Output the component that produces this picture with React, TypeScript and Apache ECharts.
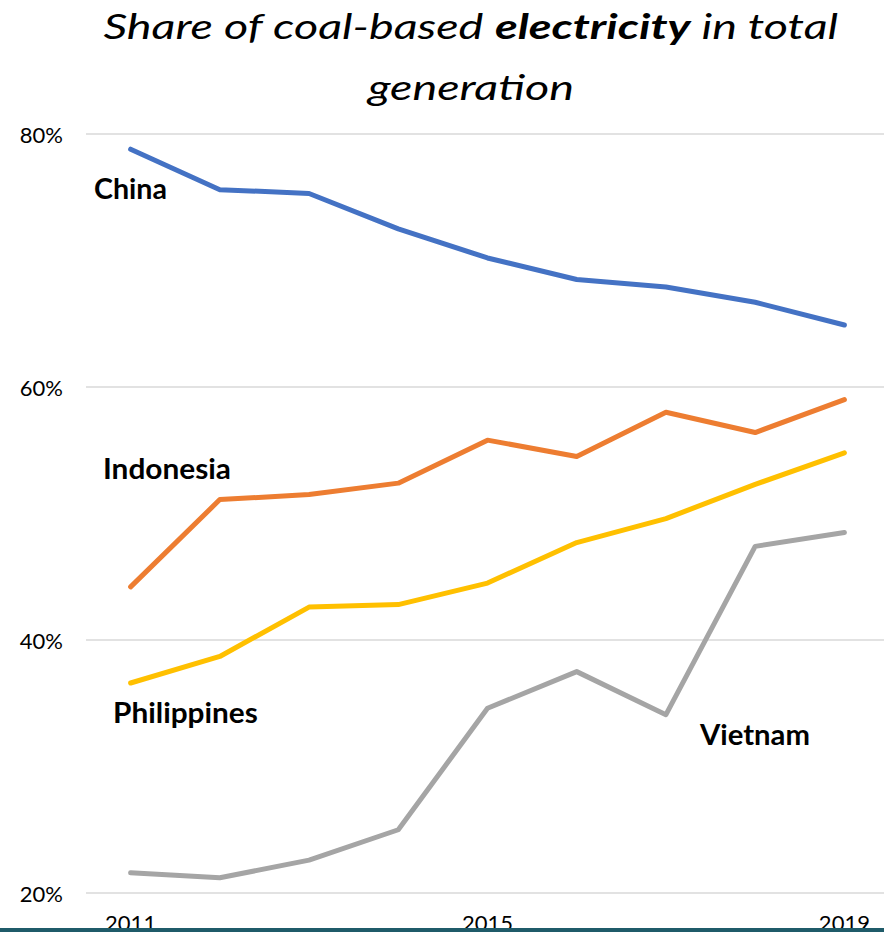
import React, { useEffect, useRef } from "react";
import * as echarts from "echarts";

const years = ["2011", "2012", "2013", "2014", "2015", "2016", "2017", "2018", "2019"];
const china = [78.8, 75.6, 75.3, 72.5, 70.2, 68.5, 67.9, 66.7, 64.9];
const indonesia = [44.2, 51.1, 51.5, 52.4, 55.8, 54.5, 58.0, 56.4, 59.0];
const philippines = [36.6, 38.7, 42.6, 42.8, 44.5, 47.7, 49.6, 52.3, 54.8];
const vietnam = [21.6, 21.2, 22.6, 25.0, 34.6, 37.5, 34.1, 47.4, 48.5];
const yTicks = [20, 40, 60, 80];

const FONT = "Lato";

function measure(text: string, font: string): number {
  try {
    const c = document.createElement("canvas").getContext("2d");
    if (!c) return 0;
    c.font = font;
    return c.measureText(text).width;
  } catch (e) {
    return 0;
  }
}

export default function App() {
  const ref = useRef<HTMLDivElement>(null);

  useEffect(() => {
    if (!ref.current) return;
    document.body.style.margin = "0";
    document.body.style.overflow = "hidden";
    const chart = echarts.init(ref.current, undefined, { renderer: "svg" });

    const tSize = 34;
    const fReg = `italic normal ${tSize}px ${FONT}`;
    const fBold = `italic bold ${tSize}px ${FONT}`;
    const s1 = "Share of coal-based";
    const s2 = "electricity";
    const s3 = "in total";
    const w1 = measure(s1 + " ", fReg);
    const w2 = measure(s2, fBold);
    const wsp = measure(" ", fReg);
    const w3 = measure(s3, fReg);
    const W = w1 + w2 + wsp + w3;
    const titleScale = W > 0 ? 735 / W : 1;
    const tStyle = (text: string, bold: boolean) => ({
      text,
      fontStyle: "italic",
      fontWeight: bold ? "bold" : "normal",
      fontSize: tSize,
      fontFamily: FONT,
      fill: "#000",
      align: "left",
      verticalAlign: "middle",
    });

    const lblSize = 28;
    const lblFont = `normal bold ${lblSize}px ${FONT}`;
    const seriesLabel = (text: string, x: number, y: number, targetW: number) => {
      const m = measure(text, lblFont);
      const sc = m > 0 ? targetW / m : 1;
      return {
        type: "text",
        x,
        y,
        scaleX: sc,
        style: {
          text,
          fontWeight: "bold",
          fontSize: lblSize,
          fontFamily: FONT,
          fill: "#000",
          align: "left",
          verticalAlign: "middle",
        },
        z: 10,
      };
    };

    const lineSeries = (name: string, data: number[], color: string) => ({
      name,
      type: "line",
      data,
      symbol: "none",
      lineStyle: { color, width: 5, cap: "round", join: "round" },
      itemStyle: { color },
    });

    chart.setOption({
      animation: false,
      backgroundColor: "#fff",
      grid: {
        left: 86,
        right: -5,
        top: 134,
        bottom: 39,
        containLabel: false,
        outerBoundsMode: "none",
      },
      xAxis: {
        type: "category",
        data: years,
        boundaryGap: true,
        axisLine: { show: false },
        axisTick: { show: false },
        axisLabel: {
          interval: 3,
          margin: 18,
          color: "#000",
          fontFamily: FONT,
          fontSize: 22,
        },
        splitLine: { show: false },
      },
      yAxis: {
        type: "value",
        min: yTicks[0],
        max: yTicks[yTicks.length - 1],
        interval: 20,
        axisLine: { show: false },
        axisTick: { show: false },
        axisLabel: {
          formatter: "{value}%",
          margin: 23,
          color: "#000",
          fontFamily: FONT,
          fontSize: 22,
        },
        splitLine: { show: true, lineStyle: { color: "#d9d9d9", width: 1.5 } },
      },
      series: [
        lineSeries("China", china, "#4472C4"),
        lineSeries("Indonesia", indonesia, "#ED7D31"),
        lineSeries("Philippines", philippines, "#FFC000"),
        lineSeries("Vietnam", vietnam, "#A5A5A5"),
      ],
      graphic: [
        {
          type: "group",
          x: 471,
          y: 26,
          scaleX: titleScale,
          children: [
            { type: "text", x: -W / 2, y: 0, style: tStyle(s1, false) },
            { type: "text", x: -W / 2 + w1, y: 0, style: tStyle(s2, true) },
            { type: "text", x: -W / 2 + w1 + w2 + wsp, y: 0, style: tStyle(s3, false) },
          ],
        },
        {
          type: "text",
          x: 471,
          y: 87,
          scaleX: titleScale,
          style: { ...tStyle("generation", false), align: "center" },
        },
        seriesLabel("China", 94, 188, 73),
        seriesLabel("Indonesia", 103, 468, 128),
        seriesLabel("Philippines", 113, 712, 145),
        seriesLabel("Vietnam", 700, 734, 110),
        {
          type: "rect",
          x: 0,
          y: 928,
          z: 100,
          shape: { width: 884, height: 4 },
          style: { fill: "#1f5b69" },
        },
      ],
    });

    return () => chart.dispose();
  }, []);

  return (
    <div
      ref={ref}
      style={{
        position: "fixed",
        left: 0,
        top: 0,
        width: 884,
        height: 932,
        overflow: "hidden",
        background: "#fff",
      }}
    />
  );
}
